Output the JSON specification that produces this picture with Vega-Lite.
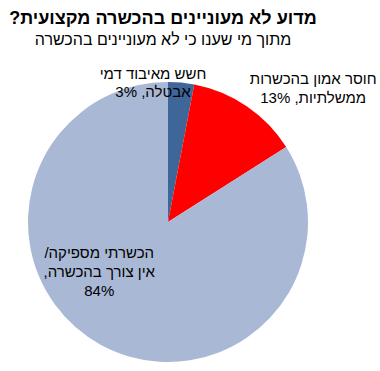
{
  "$schema": "https://vega.github.io/schema/vega-lite/v6.json",
  "autosize": {"type": "none"},
  "width": 280,
  "height": 280,
  "padding": {"left": 28, "top": 82, "right": 72, "bottom": 9},
  "background": "white",
  "config": {"view": {"stroke": null}, "font": "Liberation Sans"},
  "title": {
    "text": "מדוע לא מעוניינים בהכשרה מקצועית?\u200f",
    "subtitle": "מתוך מי שענו כי לא מעוניינים בהכשרה",
    "anchor": "middle",
    "frame": "group",
    "dx": -5,
    "offset": -5,
    "font": "Liberation Sans",
    "fontSize": 18,
    "fontWeight": "bold",
    "color": "black",
    "subtitleFont": "Liberation Sans",
    "subtitleFontSize": 16,
    "subtitleColor": "black",
    "subtitlePadding": 4
  },
  "data": {
    "values": [
      {"category": "חשש מאיבוד דמי אבטלה", "value": 3, "label": "\u200fחשש מאיבוד דמי\u200f\n\u200fאבטלה, 3%\u200f"},
      {"category": "חוסר אמון בהכשרות ממשלתיות", "value": 13, "label": "\u200fחוסר אמון בהכשרות\u200f\n\u200fממשלתיות, 13%\u200f"},
      {"category": "הכשרתי מספיקה/ אין צורך בהכשרה", "value": 84, "label": "\u200fהכשרתי מספיקה/\u200f\n\u200fאין צורך בהכשרה,\u200f\n84%"}
    ]
  },
  "encoding": {
    "theta": {"field": "value", "type": "quantitative", "stack": true},
    "order": {"field": "value", "type": "quantitative", "sort": "ascending"}
  },
  "layer": [
    {
      "mark": {"type": "arc"},
      "encoding": {
        "color": {
          "field": "category",
          "type": "nominal",
          "scale": {
            "domain": ["חשש מאיבוד דמי אבטלה", "חוסר אמון בהכשרות ממשלתיות", "הכשרתי מספיקה/ אין צורך בהכשרה"],
            "range": ["#3F6699", "#FF0000", "#A9B8D5"]
          },
          "legend": null
        }
      }
    },
    {
      "mark": {"type": "text", "align": "center", "baseline": "middle", "fontSize": 15, "lineHeight": 18, "lineBreak": "\n", "color": "black", "dx": -29},
      "encoding": {
        "radius": {"value": 148.6},
        "text": {"condition": {"test": "datum.value === 3", "field": "label"}, "value": ""}
      }
    },
    {
      "mark": {"type": "text", "align": "center", "baseline": "middle", "fontSize": 15, "lineHeight": 19, "lineBreak": "\n", "color": "black", "dx": 48},
      "encoding": {
        "radius": {"value": 172.9},
        "text": {"condition": {"test": "datum.value === 13", "field": "label"}, "value": ""}
      }
    },
    {
      "mark": {"type": "text", "align": "center", "baseline": "middle", "fontSize": 15, "lineHeight": 19, "lineBreak": "\n", "color": "black", "dx": -51.7},
      "encoding": {
        "radius": {"value": 35.4},
        "text": {"condition": {"test": "datum.value === 84", "field": "label"}, "value": ""}
      }
    }
  ]
}
